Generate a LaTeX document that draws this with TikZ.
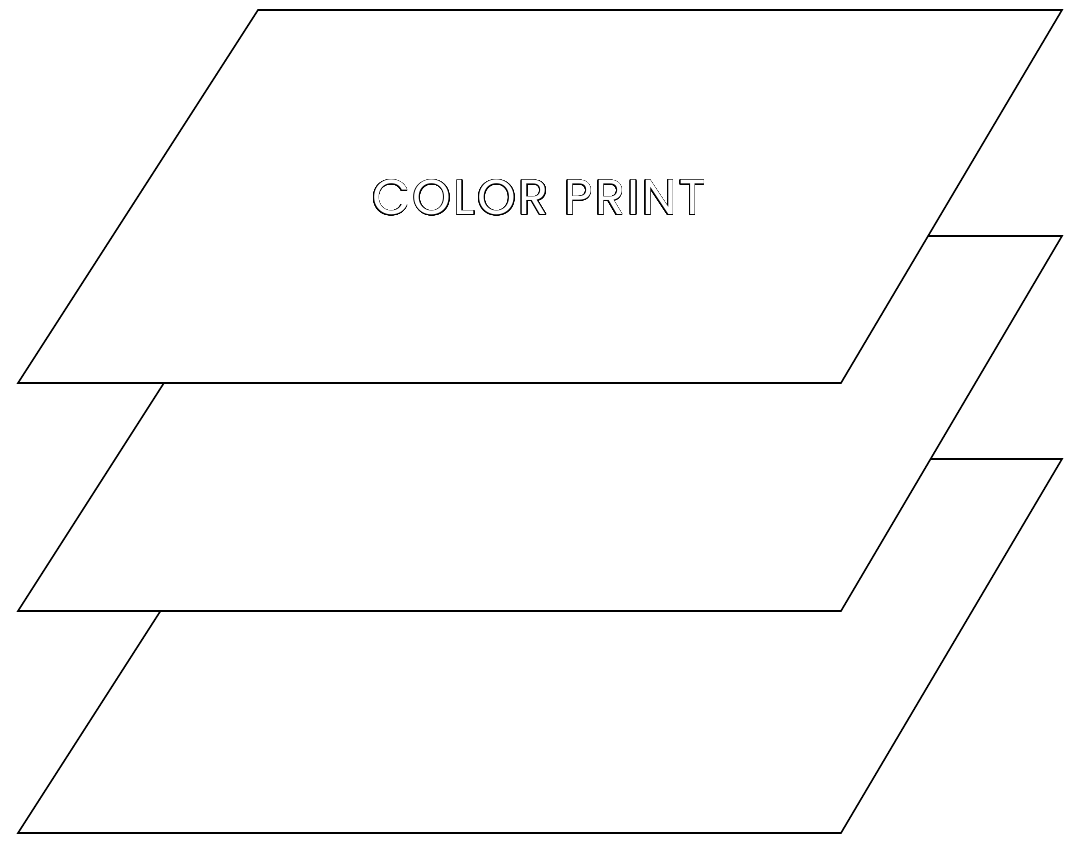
\documentclass[tikz,border=0pt]{standalone}
\usepackage{fontspec}
\newfontfamily\printfont{Poppins}[LetterSpace=5]
\usepackage{contour}
\contourlength{0.4pt}
\contournumber{32}

\begin{document}
\begin{tikzpicture}[x=0.02cm, y=-0.02cm,
		sheet/.style={draw=black, fill=white, line width=0.9pt, line join=miter}]
		\useasboundingbox (0,0) rectangle (1080,844);
		% bottom sheet
		\draw[sheet] (18,833) -- (258,459) -- (1062,459) -- (841,833) -- cycle;
		% middle sheet
		\draw[sheet] (18,611) -- (258,236) -- (1062,236) -- (841,611) -- cycle;
		% top sheet
		\draw[sheet] (18,383) -- (258,10) -- (1062,10) -- (841,383) -- cycle;
		\node (label) at (539,198) {\printfont\fontsize{28}{30}\selectfont\contour{black}{\textcolor{white}{COLOR PRINT}}};
	\end{tikzpicture}
\end{document}
